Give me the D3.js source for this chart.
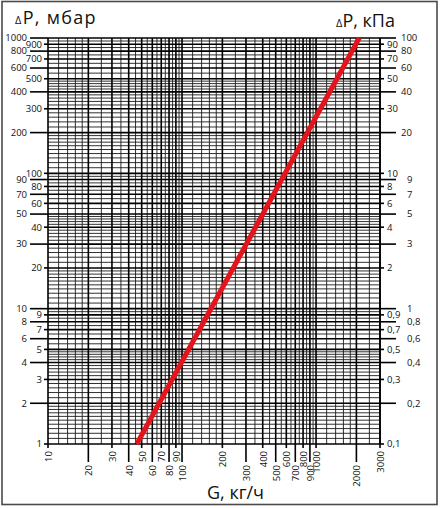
<!DOCTYPE html>
<html><head><meta charset="utf-8">
<script src="https://cdn.jsdelivr.net/npm/d3@7/dist/d3.min.js"></script>
<style>body{margin:0;background:#fff}svg{display:block}text{font-family:"Open Sans",sans-serif;fill:#111}</style>
</head><body><svg id="c" width="440" height="508"></svg>
<script>
// ---- data ----
const flowG = [46, 2100];            // G, кг/ч
const dropMbar = [1, 1000];          // ΔP, мбар
const xTicks = [10,20,30,40,50,60,70,80,90,100,200,300,400,500,600,700,800,900,1000,2000,3000];
const yTicksMbar = [1000,900,800,700,600,500,400,300,200,100,90,80,70,60,50,40,30,20,10,9,8,7,6,5,4,3,2,1];
const yTicksKpa = [100,90,80,70,60,50,40,30,20,10,9,8,7,6,5,4,3,2,1,0.9,0.8,0.7,0.6,0.5,0.4,0.3,0.2,0.1];
const xMinorMult = [1.2,1.4,1.6,1.8,2.5,3.5,4.5,5.5,6.5,7.5,8.5,9.5];
const yMinorMult = [1.1,1.2,1.3,1.4,1.5,1.6,1.7,1.8,1.9,2.2,2.4,2.6,2.8,3.2,3.4,3.6,3.8,4.2,4.4,4.6,4.8,5.5,6.5,7.5,8.5,9.5];
const majorMult = [1,2,3,4,5,6,7,8,9];

const svg = d3.select("#c");
const L=48,R=380,T=38,B=444;
const x = d3.scaleLog().domain([10,3000]).range([L,R]);
const y = d3.scaleLog().domain([1,1000]).range([B,T]);
const y2 = d3.scaleLog().domain([0.1,100]).range([B,T]);

svg.append("rect").attr("x",2).attr("y",1.5).attr("width",435).attr("height",503)
  .attr("fill","none").attr("stroke","#4a4a4a").attr("stroke-width",1.6);

const g = svg.append("g");
const inX = v => v>=10 && v<=3000*1.0001;
const inY = v => v>=1 && v<=1000*1.0001;
const xMinor=[], xMajor=[], yMinor=[], yMajor=[];
[10,100,1000].forEach(d=>{
  xMinorMult.forEach(m=>{const v=m*d; if(inX(v)) xMinor.push(v);});
  majorMult.forEach(m=>{const v=m*d; if(inX(v)) xMajor.push(v);});
});
xMajor.push(3000);
[1,10,100].forEach(d=>{
  yMinorMult.forEach(m=>{const v=m*d; if(inY(v)) yMinor.push(v);});
  majorMult.forEach(m=>{const v=m*d; if(inY(v)) yMajor.push(v);});
});
yMajor.push(1000);

g.selectAll(".xm").data(xMinor).join("line").attr("x1",d=>x(d)).attr("x2",d=>x(d)).attr("y1",T).attr("y2",B)
  .attr("stroke","#1a1a1a").attr("stroke-width",0.9);
g.selectAll(".ym").data(yMinor).join("line").attr("y1",d=>y(d)).attr("y2",d=>y(d)).attr("x1",L).attr("x2",R)
  .attr("stroke","#1a1a1a").attr("stroke-width",0.9);
g.selectAll(".xM").data(xMajor).join("line").attr("x1",d=>x(d)).attr("x2",d=>x(d)).attr("y1",T).attr("y2",B)
  .attr("stroke","#000").attr("stroke-width",1.6);
g.selectAll(".yM").data(yMajor).join("line").attr("y1",d=>y(d)).attr("y2",d=>y(d)).attr("x1",L).attr("x2",R)
  .attr("stroke","#000").attr("stroke-width",1.6);

// left axis ticks
const left = svg.append("g");
yTicksMbar.forEach((v,i)=>{
  const long = i%2===0;
  const len = long?18:4;
  left.append("line").attr("x1",L-len).attr("x2",L).attr("y1",y(v)).attr("y2",y(v)).attr("stroke","#000").attr("stroke-width",1.6);
  left.append("text").attr("x",L-len-(long?3:2)).attr("y",y(v)).attr("dy","0.35em").attr("text-anchor","end")
    .attr("font-size",9.5).text(v);
});
// right axis ticks
const fmt = v => String(v).replace(".",",");
const right = svg.append("g");
yTicksKpa.forEach((v,i)=>{
  const long = i%2===0;
  const len = long?16:4;
  right.append("line").attr("x1",R).attr("x2",R+len).attr("y1",y2(v)).attr("y2",y2(v)).attr("stroke","#000").attr("stroke-width",1.6);
  right.append("text").attr("x",long?(v>=20?401:407):R+7).attr("y",y2(v)).attr("dy","0.35em").attr("text-anchor","start")
    .attr("font-size",9.5).text(fmt(v));
});
// bottom axis ticks
const bottom = svg.append("g");
xTicks.forEach((v,i)=>{
  const long = i%2===1;
  const len = long?18:4;
  bottom.append("line").attr("x1",x(v)).attr("x2",x(v)).attr("y1",B).attr("y2",B+len).attr("stroke","#000").attr("stroke-width",1.6);
  bottom.append("text").attr("transform",`translate(${x(v)+0.5},${B+len+3}) rotate(-90)`).attr("dy","0.35em")
    .attr("text-anchor","end").attr("font-size",9.5).text(v);
});

// red characteristic line
const line = d3.line().x((d,i)=>x(flowG[i])).y((d,i)=>y(dropMbar[i]));
svg.append("path").datum(flowG).attr("d",line).attr("fill","none").attr("stroke","#e3141b").attr("stroke-width",5);

// titles
const t1 = svg.append("text").attr("x",15).attr("y",24).attr("font-size",18).attr("letter-spacing",1.3);
t1.append("tspan").attr("font-size",11).text("Δ");
t1.append("tspan").text("P, мбар");
const t2 = svg.append("text").attr("x",336).attr("y",27).attr("font-size",18);
t2.append("tspan").attr("font-size",11).text("Δ");
t2.append("tspan").text("P, кПа");
svg.append("text").attr("x",207).attr("y",499).attr("font-size",18).text("G, кг/ч");
</script></body></html>
